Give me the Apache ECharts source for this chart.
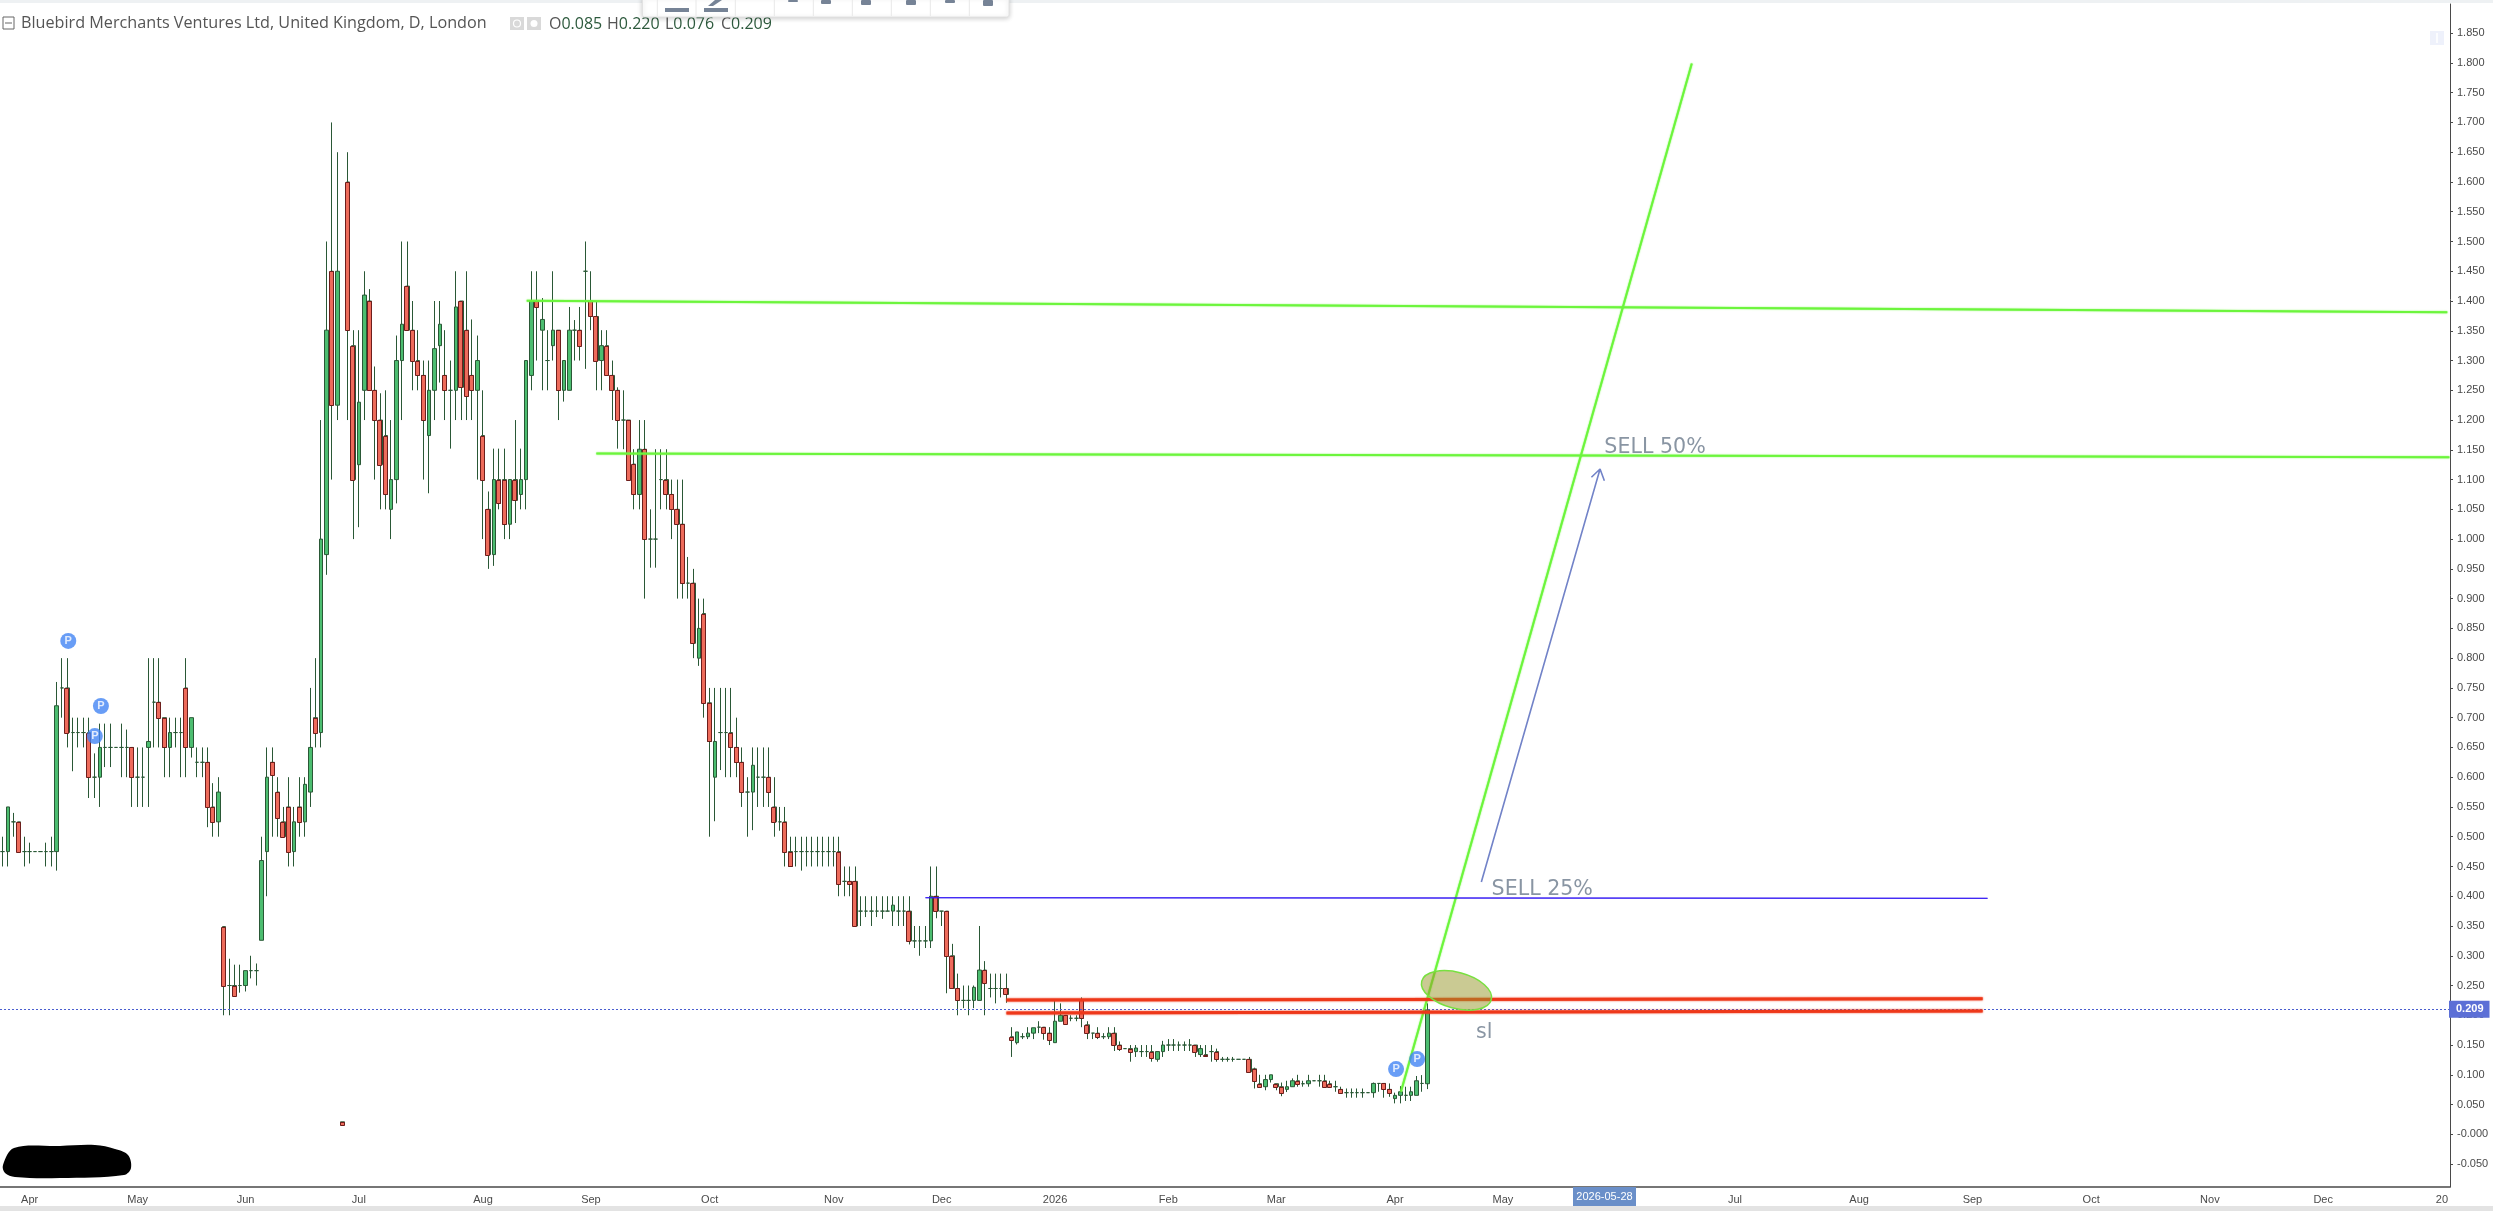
<!DOCTYPE html>
<html><head><meta charset="utf-8"><title>Bluebird Merchants Ventures Ltd</title>
<style>html,body{margin:0;padding:0;background:#fff}#c{width:2493px;height:1211px}</style>
<script src="https://cdn.jsdelivr.net/npm/echarts@6/dist/echarts.min.js"></script></head>
<body><div id="c"></div>
<script>
const opens = [
.475,.475,.525,.525,.475,.475,.475,.475,.475,.475,
.475,.75,.75,.675,.675,.675,.675,.60,.60,.65,
.65,.65,.65,.65,.65,.60,.60,.65,.726,.726,
.70,.65,.675,.675,.75,.65,.625,.625,.625,.55,
.525,.349,.25,.25,.25,.25,.275,.275,.326,.475,
.625,.575,.525,.55,.475,.55,.525,.575,.70,.675,
.974,1.45,1.225,.021,1.60,1.325,1.125,1.25,1.40,1.25,
1.20,1.174,1.05,1.10,1.30,1.425,1.351,1.30,1.275,1.174,
1.25,1.325,1.275,1.25,1.25,1.40,1.351,1.275,1.25,1.174,
1.05,.974,1.10,1.10,1.025,1.10,1.075,1.10,1.275,1.40,
1.351,1.30,1.325,1.351,1.25,1.25,1.351,1.351,1.45,1.40,
1.374,1.30,1.325,1.275,1.25,1.20,1.20,1.126,1.075,1.151,
1.00,1.00,1.10,1.10,1.075,1.05,1.025,.926,.926,.80,
.875,.725,.60,.675,.675,.675,.65,.625,.575,.575,
.60,.60,.60,.55,.525,.525,.475,.475,.475,.475,
.475,.475,.475,.475,.475,.475,.425,.425,.425,.375,
.375,.375,.375,.375,.375,.375,.375,.375,.375,.325,
.325,.325,.325,.40,.375,.375,.30,.245,.225,.225,
.225,.225,.276,.245,.245,.245,.245,.164,.154,.164,
.164,.17,.18,.18,.17,.154,.19,.2,.195,.195,
.225,.184,.17,.17,.164,.164,.17,.15,.144,.144,
.139,.139,.139,.139,.126,.139,.15,.15,.15,.15,
.15,.15,.134,.134,.139,.139,.126,.126,.126,.126,
.126,.126,.11,.085,.08,.092,.085,.08,.0755,.08,
.09,.085,.085,.09,.09,.09,.085,.08,.0755,.07,
.07,.07,.07,.07,.07,.0855,.0855,.0755,.06,.0655,
.0655,.0655,.0655,.0855,.085];
const closes = [
.475,.55,.525,.475,.475,.475,.475,.475,.475,.475,
.72,.75,.675,.675,.675,.675,.60,.60,.65,.65,
.65,.65,.65,.65,.60,.60,.60,.66,.726,.70,
.65,.675,.675,.675,.65,.70,.625,.625,.55,.525,
.575,.25,.25,.233,.25,.275,.275,.275,.46,.60,
.604,.531,.50,.475,.525,.525,.588,.65,.675,1.00,
1.351,1.225,1.45,.016,1.351,1.10,1.23,1.41,1.25,1.20,
1.125,1.075,1.10,1.30,1.361,1.351,1.30,1.275,1.20,1.25,
1.32,1.361,1.25,1.25,1.39,1.255,1.24,1.25,1.30,1.10,
.974,1.10,1.06,1.025,1.10,1.065,1.10,1.30,1.40,1.39,
1.369,1.30,1.351,1.25,1.30,1.351,1.351,1.325,1.45,1.374,
1.30,1.325,1.275,1.25,1.20,1.20,1.10,1.075,1.151,1.00,
1.00,1.00,1.10,1.075,1.05,1.025,.926,.926,.825,.85,
.725,.66,.66,.675,.675,.65,.625,.575,.575,.62,
.60,.60,.575,.525,.525,.475,.45,.475,.475,.475,
.475,.475,.475,.475,.475,.42,.425,.42,.35,.375,
.375,.375,.375,.375,.375,.385,.375,.375,.325,.325,
.325,.325,.40,.375,.375,.30,.245,.225,.225,.225,
.247,.276,.255,.245,.245,.245,.235,.159,.172,.164,
.17,.179,.18,.17,.159,.19,.2,.186,.195,.195,
.195,.17,.17,.164,.164,.17,.15,.144,.144,.139,
.145,.139,.139,.129,.139,.15,.15,.15,.15,.15,
.15,.139,.144,.131,.139,.126,.126,.126,.126,.126,
.126,.105,.09,.08,.092,.10,.08,.07,.08,.09,
.085,.085,.09,.09,.09,.08,.08,.08,.07,.07,
.07,.07,.07,.07,.0855,.0855,.0755,.07,.0655,.0715,
.0655,.0715,.09,.0855,.209];
const lows = [
.45,.45,.50,.475,.45,.455,.475,.475,.45,.45,
.443,.70,.65,.61,.65,.65,.565,.565,.55,.617,
.617,.65,.60,.60,.55,.55,.55,.55,.65,.65,
.60,.60,.65,.60,.60,.633,.60,.60,.516,.50,
.50,.20,.20,.233,.238,.24,.262,.25,.326,.40,
.50,.50,.50,.45,.45,.50,.50,.55,.65,.65,
.94,1.10,1.20,.016,1.20,1.00,1.02,1.20,1.25,1.10,
1.05,1.05,1.00,1.06,1.20,1.351,1.25,1.25,1.10,1.077,
1.20,1.263,1.20,1.152,1.20,1.20,1.20,1.20,1.10,1.00,
.95,.955,1.05,1.00,1.00,1.027,1.05,1.05,1.25,1.30,
1.25,1.25,1.30,1.20,1.231,1.25,1.30,1.30,1.286,1.351,
1.25,1.25,1.275,1.20,1.152,1.151,1.10,1.05,1.05,.90,
.952,.952,1.05,1.05,1.00,.90,.90,.90,.80,.787,
.70,.50,.526,.612,.60,.60,.60,.55,.50,.511,
.55,.55,.55,.50,.51,.45,.45,.45,.443,.45,
.45,.45,.45,.45,.45,.40,.40,.40,.35,.35,
.365,.35,.365,.362,.375,.35,.35,.35,.319,.313,
.30,.313,.313,.363,.35,.237,.245,.20,.212,.20,
.212,.225,.20,.23,.22,.23,.221,.13,.151,.16,
.16,.16,.17,.159,.15,.154,.19,.186,.19,.19,
.18,.16,.16,.16,.16,.16,.14,.14,.144,.122,
.13,.13,.13,.122,.122,.13,.14,.14,.14,.14,
.14,.13,.13,.131,.122,.122,.122,.122,.122,.126,
.126,.105,.077,.08,.074,.087,.074,.064,.071,.08,
.08,.08,.08,.09,.08,.08,.08,.0715,.07,.0615,
.0615,.0615,.0615,.07,.0615,.0715,.0615,.063,.052,.052,
.056,.056,.0655,.0715,.076];
const highs = [
.50,.55,.54,.525,.50,.49,.475,.475,.49,.50,
.76,.80,.80,.70,.70,.70,.70,.64,.69,.69,
.69,.65,.69,.68,.65,.65,.65,.80,.80,.80,
.70,.70,.70,.70,.80,.70,.65,.65,.65,.59,
.60,.349,.295,.285,.285,.275,.30,.287,.50,.65,
.65,.60,.55,.60,.55,.60,.60,.75,.80,1.20,
1.50,1.70,1.65,.021,1.65,1.351,1.351,1.45,1.42,1.29,
1.245,1.25,1.20,1.342,1.50,1.50,1.40,1.351,1.30,1.30,
1.40,1.40,1.351,1.30,1.45,1.40,1.45,1.369,1.342,1.25,
1.08,1.152,1.152,1.152,1.10,1.20,1.152,1.30,1.45,1.45,
1.405,1.351,1.45,1.351,1.30,1.39,1.368,1.39,1.50,1.45,
1.40,1.351,1.351,1.30,1.255,1.25,1.20,1.151,1.20,1.20,
1.05,1.151,1.151,1.151,1.10,1.10,1.10,.97,.95,.90,
.90,.75,.75,.75,.75,.75,.70,.65,.60,.65,
.65,.65,.65,.60,.55,.55,.50,.50,.50,.50,
.50,.50,.50,.50,.50,.50,.45,.45,.45,.40,
.40,.40,.40,.40,.40,.40,.40,.40,.40,.35,
.35,.35,.45,.45,.375,.375,.32,.27,.25,.25,
.25,.35,.291,.27,.27,.27,.27,.18,.172,.17,
.18,.179,.19,.18,.18,.2256,.22,.2,.2,.2,
.23,.19,.17,.18,.17,.18,.18,.156,.144,.15,
.15,.15,.15,.15,.139,.157,.16,.16,.156,.156,
.16,.15,.15,.15,.15,.144,.13,.13,.13,.126,
.126,.13,.112,.10,.10,.10,.085,.087,.09,.094,
.10,.09,.10,.09,.10,.10,.09,.09,.08,.077,
.077,.077,.077,.07,.087,.0855,.0855,.0855,.07,.081,
.08,.08,.098,.0995,.22];

const yTicks = [-0.05,0,0.05,0.1,0.15,0.2,0.25,0.3,0.35,0.4,0.45,0.5,0.55,0.6,0.65,0.7,0.75,0.8,0.85,0.9,0.95,1,1.05,1.1,1.15,1.2,1.25,1.3,1.35,1.4,1.45,1.5,1.55,1.6,1.65,1.7,1.75,1.8,1.85];
const tickSlots = [5,25,45,66,89,109,131,154,174,195,216,236,258,278,321,344,365,387,409,430,452];
const tickNames = ['Apr','May','Jun','Jul','Aug','Sep','Oct','Nov','Dec','2026','Feb','Mar','Apr','May','Jul','Aug','Sep','Oct','Nov','Dec','20'];
const slotCount = 454;

const greenUpper = [[97.1,1.4005],[453,1.381]];
const greenLower = [[110,1.144],[453.4,1.1375]];
const greenSteep = [[259.1,0.0716],[313,1.799]];
const blueLevel = [[171,0.3975],[367.8,0.3965]];
const redUpper = [[186,0.2256],[366.9,0.2278]];
const redLower = [[186,0.2038],[366.9,0.2072]];
const arrowPath = [[274,0.4239],[296,1.1178],[294.4,1.1039],[296,1.1178],[296.8,1.0981]];
const zoneCentre = [269.4,0.2418];
const pinPoints = [[12.15,0.829],[18.2,0.7196],[17.07,0.669],[258.2,0.1096],[262.1,0.1264]];
const notes = [[296.8,1.154,'SELL 50%'],[275.9,0.4103,'SELL 25%'],[273,0.1712,'sl']];
const lastClose = 0.209, markerPrice = 1.179;

const categories = Array.from({length:slotCount},(_, i)=>{const k=tickSlots.indexOf(i);return k>=0?tickNames[k]:'';});
const candles = opens.map((o,i)=>[o,closes[i],lows[i],highs[i]]);
const downBodies = opens.map((o,i)=>[i,o,closes[i]]).filter(d=>d[2]<d[1]);
const isTick = i=>tickSlots.indexOf(i)>=0;

const GREEN='#4cbd70',RED='#ee6b5b',DARKG='#2a5836',DARKR='#6d1e1c';
function overlay(data,color,width,blur){
  return {type:'line',xAxisIndex:1,yAxisIndex:0,data,showSymbol:false,symbol:'none',silent:true,z:5,
    lineStyle:{color,width,shadowColor:color,shadowBlur:blur}};
}
function ohlc(x,label,val){
  return {text:'{l|'+label+'}{v|'+val+'}',left:x,top:16,padding:0,textStyle:{fontWeight:'normal',rich:{
    l:{fontFamily:'Open Sans',fontSize:16,fontWeight:'normal',color:'#555'},
    v:{fontFamily:'Open Sans',fontSize:16,fontWeight:'normal',color:'#2d5a3d'}}}};
}
const toolSeps=[82,198,316,433,550,667,784,901,1018].map(v=>({type:'line',shape:{x1:630+v/3,y1:0,x2:630+v/3,y2:16},style:{stroke:'#e8e8e8',lineWidth:1}}));
const toolStubs=[[793,2],[826,4],[866,5],[911,5],[950,3],[988,6]].map(d=>({type:'rect',shape:{x:d[0]-5,y:0,width:10,height:d[1],r:1},style:{fill:'#768396'}}));

const chart = echarts.init(document.getElementById('c'),null,{renderer:'canvas'});
chart.setOption({
  animation:false,backgroundColor:'#fff',
  title:[
    {text:'Bluebird Merchants Ventures Ltd, United Kingdom, D, London',left:21,top:15,padding:0,
     textStyle:{fontFamily:'Open Sans',fontSize:16.2,fontWeight:'normal',color:'#555'}},
    ohlc(549,'O','0.085'),ohlc(607,'H','0.220'),ohlc(665,'L','0.076'),ohlc(721,'C','0.209')
  ],
  grid:{left:-1.9,right:43,top:4,bottom:24,containLabel:false},
  xAxis:[
    {type:'category',data:categories,boundaryGap:true,
     axisLine:{onZero:false,lineStyle:{color:'#4a4a4a',width:1.5}},
     axisTick:{alignWithLabel:true,length:3,interval:i=>isTick(i),lineStyle:{color:'#4a4a4a'}},
     axisLabel:{interval:i=>isTick(i),color:'#4a4a4a',fontFamily:'Liberation Sans',fontSize:11,margin:7,hideOverlap:false},
     splitLine:{show:false}},
    {type:'value',min:-0.5,max:slotCount-0.5,show:false,splitLine:{show:false}}
  ],
  yAxis:[{type:'value',position:'right',min:-0.0885,max:1.899,scale:true,
     axisLine:{show:true,onZero:false,lineStyle:{color:'#4a4a4a',width:1}},
     axisTick:{show:true,length:3,customValues:yTicks,lineStyle:{color:'#4a4a4a'}},
     axisLabel:{color:'#4a4a4a',fontFamily:'Liberation Sans',fontSize:11,margin:7,padding:[3,0,0,0],customValues:yTicks,
       formatter:v=>Math.abs(v)<1e-9?'-0.000':v.toFixed(3)},
     splitLine:{show:false}}],
  series:[
    {type:'candlestick',name:'Bluebird',xAxisIndex:0,yAxisIndex:0,data:candles,barWidth:4,z:2,silent:true,
     itemStyle:{color:GREEN,color0:RED,borderColor:DARKG,borderColor0:DARKG,borderColorDoji:DARKG,borderWidth:1}},
    {type:'custom',name:'down bodies',xAxisIndex:0,yAxisIndex:0,data:downBodies,z:3,silent:true,
     encode:{x:0,y:[1,2]},
     renderItem:(p,api)=>{
       const a=api.coord([api.value(0),api.value(1)]),b=api.coord([api.value(0),api.value(2)]);
       const x=Math.round(a[0])-2.5,y0=Math.round(a[1])+0.5,y1=Math.round(b[1])+0.5;
       return {type:'rect',shape:{x:x,y:y0,width:4,height:Math.max(y1-y0,1)},
         style:{fill:RED,stroke:DARKR,lineWidth:1}};
     }},
    Object.assign(overlay(greenUpper,'#6cf53c',2,1.5),{
      markLine:{silent:true,symbol:'none',animation:false,
        data:[
          {yAxis:lastClose,lineStyle:{color:'#4a5fd0',type:[2,2],width:1},
           label:{show:true,position:'end',distance:-1,formatter:lastClose.toFixed(3),color:'#fff',fontFamily:'Liberation Sans',fontSize:11,fontWeight:'bold',backgroundColor:'#5c6fd6',padding:[3,6,3,7]}},
          {yAxis:markerPrice,lineStyle:{opacity:0,width:0},
           label:{show:true,position:'end',distance:-1,formatter:markerPrice.toFixed(3),color:'#fff',fontFamily:'Liberation Sans',fontSize:11,fontWeight:'bold',backgroundColor:'#6a8fc9',padding:[3,6,3,7]}}
        ]}}),
    overlay(greenLower,'#6cf53c',2,1.5),
    overlay(greenSteep,'#6cf53c',2,1.5),
    overlay(blueLevel,'#3a20f5',1,0.5),
    overlay(redUpper,'#ee381a',3,2),
    overlay(redLower,'#ee381a',3,2),
    {type:'line',xAxisIndex:1,yAxisIndex:0,data:arrowPath,showSymbol:false,symbol:'none',silent:true,z:5,
     lineStyle:{color:'#7283c8',width:1.6}},
    {type:'custom',name:'zone',xAxisIndex:1,yAxisIndex:0,data:[zoneCentre],z:6,silent:true,
     renderItem:(p,api)=>{
       const c=api.coord([api.value(0),api.value(1)]);
       return {type:'ellipse',x:c[0],y:c[1],rotation:-15*Math.PI/180,shape:{cx:0,cy:0,rx:36,ry:18},
         style:{fill:'rgba(150,150,40,0.5)',stroke:'#78e040',lineWidth:1.5}};
     }},
    {type:'scatter',xAxisIndex:1,yAxisIndex:0,data:pinPoints,symbol:'circle',symbolSize:16,z:8,silent:true,
     itemStyle:{color:'#4285f4'},
     label:{show:true,position:'inside',formatter:'P',color:'#fff',fontFamily:'Liberation Sans',fontSize:11,fontWeight:'bold'}},
    {type:'scatter',xAxisIndex:1,yAxisIndex:0,data:notes,symbolSize:0,z:9,silent:true,
     label:{show:true,position:'right',distance:0,formatter:p=>p.data[2],color:'#6b7b8c',fontFamily:'DejaVu Sans',fontSize:20.6}}
  ],
  graphic:[
    {type:'rect',shape:{x:0,y:0,width:2493,height:3},style:{fill:'#eef1f3'},z:20},
    {type:'rect',shape:{x:0,y:1206,width:2493,height:5},style:{fill:'#e3e3e3'},z:20},
    {type:'polygon',shape:{smooth:0.35,points:[[3,1165],[14,1148],[60,1146],[95,1145],[115,1149],[128,1155],[131,1168],[124,1175],[60,1178],[15,1177],[5,1173]]},style:{fill:'#000'},z:20},
    {type:'rect',shape:{x:1573,y:1187,width:63,height:19},style:{fill:'#6a8fc9'},z:20},
    {type:'text',x:1604.5,y:1197,style:{text:'2026-05-28',fill:'#fff',font:'11px "Liberation Sans"',textAlign:'center',textVerticalAlign:'middle'},z:21},
    {type:'rect',shape:{x:3,y:17,width:11,height:12},style:{fill:'#fff',stroke:'#666',lineWidth:1},z:20},
    {type:'line',shape:{x1:5,y1:23,x2:12,y2:23},style:{stroke:'#666',lineWidth:1},z:21},
    {type:'rect',shape:{x:510,y:17,width:14,height:13},style:{fill:'#d9d9d9'},z:20},
    {type:'circle',shape:{cx:517,cy:23.5,r:3.5},style:{fill:'none',stroke:'#fff',lineWidth:1.2},z:21},
    {type:'rect',shape:{x:527,y:17,width:14,height:13},style:{fill:'#d9d9d9'},z:20},
    {type:'circle',shape:{cx:534,cy:23.5,r:3.5},style:{fill:'#fff'},z:21},
    {type:'rect',shape:{x:2430,y:31,width:14,height:14},style:{fill:'#eef1fb'},z:20},
    {type:'line',shape:{x1:2437,y1:33,x2:2437,y2:43},style:{stroke:'#fff',lineWidth:1.5},z:21},
    {type:'group',z:30,children:[
      {type:'rect',shape:{x:642.5,y:-3,width:366.5,height:20,r:2},style:{fill:'#fff',stroke:'#e2e2e2',shadowBlur:5,shadowColor:'rgba(0,0,0,0.2)',shadowOffsetY:1},z:30},
      ...toolSeps.map(e=>Object.assign(e,{z:31})),
      ...toolStubs.map(e=>Object.assign(e,{z:31})),
      {type:'rect',shape:{x:665,y:8,width:24,height:4},style:{fill:'#768396'},z:31},
      {type:'rect',shape:{x:704,y:8,width:24,height:4},style:{fill:'#768396'},z:31},
      {type:'text',x:677,y:3,style:{text:'A',fill:'#768396',font:'13px "Liberation Sans"',textAlign:'center',textVerticalAlign:'bottom'},z:31},
      {type:'polygon',shape:{points:[[708,6],[713,6],[722,0],[715,0]]},style:{fill:'#768396'},z:31},
      {type:'text',x:751,y:2,style:{text:'20',fill:'#333',font:'12px "Liberation Sans"',textAlign:'center',textVerticalAlign:'bottom'},z:31}
    ]}
  ]
});
</script></body></html>
